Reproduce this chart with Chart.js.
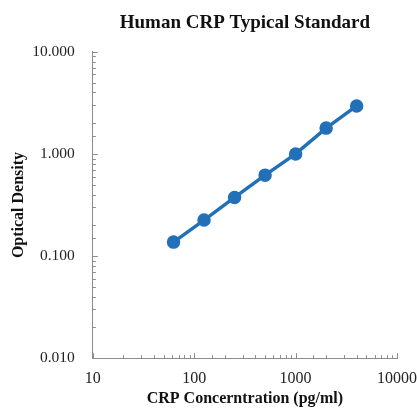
<!DOCTYPE html>
<html>
<head>
<meta charset="utf-8">
<script src="https://cdn.jsdelivr.net/npm/chart.js@4/dist/chart.umd.min.js"></script>
<style>
  html, body { margin: 0; padding: 0; background: #fff; }
  #wrap { width: 417px; height: 408px; }
</style>
</head>
<body>
<div id="wrap"><canvas id="crp-chart"></canvas></div>
<script>
// standard curve
const concentrations = [62.5, 125, 250, 500, 1000, 2000, 4000];
const opticalDensity = [0.137, 0.225, 0.375, 0.62, 1.0, 1.79, 2.95];

const xLimits = [10, 10000];
const yLimits = [0.01, 10];

const isDecade = v => Math.abs(Math.log10(v) - Math.round(Math.log10(v))) < 1e-9;

// Excel-style tick marks pointing into the plot
const innerTicks = {
    id: 'innerTicks',
    afterDraw(chart) {
        const ctx = chart.ctx;
        ctx.save();
        ctx.strokeStyle = '#8c8c8c';
        ctx.lineWidth = 1;
        const xs = chart.scales.x, ys = chart.scales.y;
        xs.ticks.forEach(t => {
            const px = Math.round(xs.getPixelForValue(t.value)) + 0.5;
            const len = isDecade(t.value) ? 5 : 3;
            ctx.beginPath();
            ctx.moveTo(px, xs.top);
            ctx.lineTo(px, xs.top - len);
            ctx.stroke();
        });
        ys.ticks.forEach(t => {
            const py = Math.round(ys.getPixelForValue(t.value)) + 0.5;
            const len = isDecade(t.value) ? 5 : 3;
            ctx.beginPath();
            ctx.moveTo(ys.right, py);
            ctx.lineTo(ys.right + len, py);
            ctx.stroke();
        });
        ctx.restore();
    }
};

const ctx = document.getElementById('crp-chart').getContext('2d');
new Chart(ctx, {
    type: 'line',
    data: {
        datasets: [{
            label: 'Human CRP',
            data: concentrations.map((c, i) => ({ x: c, y: opticalDensity[i] })),
            borderColor: '#2270b8',
            backgroundColor: '#2270b8',
            borderWidth: 3.5,
            pointRadius: 5,
            pointHoverRadius: 5,
            fill: false,
            tension: 0,
        }],
    },
    options: {
        responsive: true,
        maintainAspectRatio: false,
        animation: false,
        layout: { padding: { left: 8, right: 0, top: 0, bottom: 0 } },
        plugins: {
            legend: { display: false },
            tooltip: { enabled: false },
            title: {
                display: true,
                fullSize: false,
                text: 'Human CRP Typical Standard',
                color: '#111',
                font: { family: 'Liberation Serif', size: 19, weight: 'bold' },
                padding: { top: 12, bottom: 17 },
            },
        },
        scales: {
            x: {
                type: 'logarithmic',
                min: xLimits[0],
                max: xLimits[1],
                grid: { display: false, drawTicks: false },
                border: { display: true, color: '#8c8c8c', width: 1 },
                ticks: {
                    color: '#222',
                    // tall line box instead of padding, so the last label can hang past the axis end
                    font: { family: 'Liberation Serif', size: 16, lineHeight: 2.6 },
                    padding: 0,
                    autoSkip: false,
                    maxRotation: 0,
                    callback: v => isDecade(v) ? String(Math.round(v)) : '',
                },
                title: {
                    display: true,
                    text: 'CRP Concerntration (pg/ml)',
                    color: '#111',
                    font: { family: 'Liberation Serif', size: 16, weight: 'bold' },
                    padding: { top: -11, bottom: 0 },
                },
            },
            y: {
                type: 'logarithmic',
                min: yLimits[0],
                max: yLimits[1],
                grid: { display: false, drawTicks: false },
                border: { display: true, color: '#8c8c8c', width: 1 },
                ticks: {
                    color: '#222',
                    font: { family: 'Liberation Serif', size: 15.5 },
                    padding: 18,
                    autoSkip: false,
                    callback: v => isDecade(v) ? v.toFixed(3) : '',
                },
                title: {
                    display: true,
                    text: 'Optical Density',
                    color: '#111',
                    font: { family: 'Liberation Serif', size: 16, weight: 'bold' },
                    padding: { top: 1, bottom: -14 },
                },
            },
        },
    },
    plugins: [innerTicks],
});
</script>
</body>
</html>
